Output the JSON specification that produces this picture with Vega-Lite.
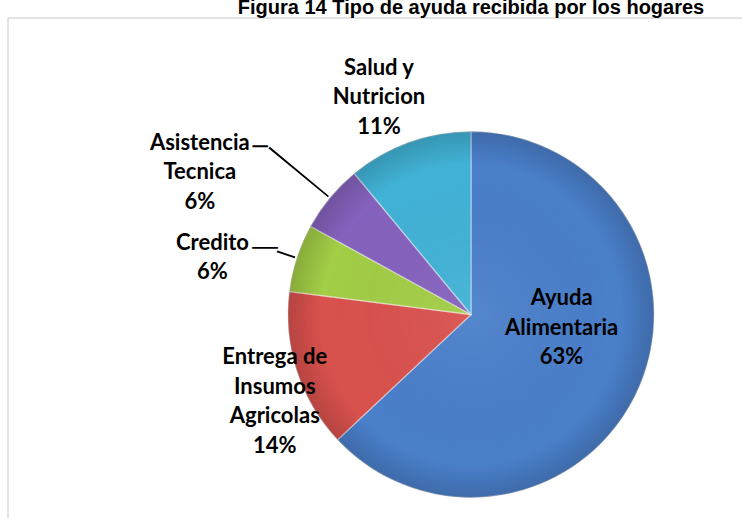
{
  "$schema": "https://vega.github.io/schema/vega-lite/v6.json",
  "width": 926,
  "height": 593,
  "autosize": "none",
  "padding": {"left": 8, "top": 18, "right": 0, "bottom": 0},
  "background": "white",
  "title": {
    "text": "Figura 14 Tipo de ayuda recibida por los hogares",
    "font": "Liberation Sans",
    "fontSize": 20,
    "fontWeight": "bold",
    "color": "#000000",
    "anchor": "middle",
    "baseline": "alphabetic",
    "offset": 6,
    "dy": 22
  },
  "data": {
    "values": [
      {"Tipo": "Ayuda Alimentaria", "orden": 1, "Porcentaje": 63, "lineas": ["Ayuda", "Alimentaria", "63%"]},
      {"Tipo": "Entrega de Insumos Agricolas", "orden": 2, "Porcentaje": 14, "lineas": ["Entrega de", "Insumos", "Agricolas", "14%"]},
      {"Tipo": "Credito", "orden": 3, "Porcentaje": 6, "lineas": ["Credito", "6%"]},
      {"Tipo": "Asistencia Tecnica", "orden": 4, "Porcentaje": 6, "lineas": ["Asistencia", "Tecnica", "6%"]},
      {"Tipo": "Salud y Nutricion", "orden": 5, "Porcentaje": 11, "lineas": ["Salud y", "Nutricion", "11%"]}
    ]
  },
  "layer": [
    {
      "transform": [{"aggregate": [{"op": "count", "as": "n"}]}],
      "mark": {"type": "rect", "fill": "transparent", "stroke": "#c8c8c8", "strokeWidth": 1},
      "encoding": {}
    },
    {
      "mark": {"type": "arc", "outerRadius": 183, "stroke": "#ffffff", "strokeOpacity": 0.4, "strokeWidth": 1.4},
      "encoding": {
        "theta": {"field": "Porcentaje", "type": "quantitative", "stack": true},
        "order": {"field": "orden", "type": "quantitative"},
        "color": {
          "field": "Tipo",
          "type": "nominal",
          "legend": null,
          "scale": {
            "domain": ["Ayuda Alimentaria", "Entrega de Insumos Agricolas", "Credito", "Asistencia Tecnica", "Salud y Nutricion"],
            "range": ["#4a7fca", "#d9514d", "#a2cd46", "#8562bd", "#41b2d6"]
          }
        }
      }
    },
    {
      "transform": [{"aggregate": [{"op": "count", "as": "n"}]}],
      "mark": {
        "type": "arc",
        "outerRadius": 183,
        "fill": {
          "gradient": "radial",
          "x1": 0.5, "y1": 0.5, "r1": 0,
          "x2": 0.5, "y2": 0.5, "r2": 0.5,
          "stops": [
            {"offset": 0, "color": "rgba(255,255,255,0.06)"},
            {"offset": 0.82, "color": "rgba(0,0,0,0)"},
            {"offset": 1, "color": "rgba(0,0,0,0.16)"}
          ]
        },
        "stroke": "rgba(0,0,0,0.12)",
        "strokeWidth": 1
      },
      "encoding": {}
    },
    {
      "transform": [
        {"stack": "Porcentaje", "groupby": [], "sort": [{"field": "orden", "order": "ascending"}], "as": ["ini", "fin"]},
        {"filter": "datum.Tipo === 'Asistencia Tecnica'"}
      ],
      "mark": {"type": "arc", "radius": 262, "radius2": 185, "thetaOffset": 0.1843, "theta2Offset": -0.1843, "fill": "#000000"},
      "encoding": {
        "theta": {"field": "ini", "type": "quantitative"},
        "theta2": {"field": "fin"}
      }
    },
    {
      "transform": [
        {"stack": "Porcentaje", "groupby": [], "sort": [{"field": "orden", "order": "ascending"}], "as": ["ini", "fin"]},
        {"filter": "datum.Tipo === 'Credito'"}
      ],
      "mark": {"type": "arc", "radius": 204, "radius2": 185, "thetaOffset": 0.1838, "theta2Offset": -0.1838, "fill": "#000000"},
      "encoding": {
        "theta": {"field": "ini", "type": "quantitative"},
        "theta2": {"field": "fin"}
      }
    },
    {
      "mark": {"type": "text", "radius": 262, "dx": -9, "dy": 0, "font": "DejaVu Sans", "fontSize": 25, "align": "center", "baseline": "middle", "color": "#000000"},
      "encoding": {
        "theta": {"field": "Porcentaje", "type": "quantitative", "stack": true},
        "order": {"field": "orden", "type": "quantitative"},
        "text": {"condition": {"test": "datum.Tipo === 'Asistencia Tecnica'", "value": "─"}, "value": ""}
      }
    },
    {
      "mark": {"type": "text", "radius": 204, "dx": -12, "dy": -2, "font": "DejaVu Sans", "fontSize": 21, "align": "center", "baseline": "middle", "color": "#000000"},
      "encoding": {
        "theta": {"field": "Porcentaje", "type": "quantitative", "stack": true},
        "order": {"field": "orden", "type": "quantitative"},
        "text": {"condition": {"test": "datum.Tipo === 'Credito'", "value": "──"}, "value": ""}
      }
    },
    {
      "mark": {"type": "text", "radius": 90, "dx": 8, "dy": -52, "font": "Lato", "fontSize": 22, "fontWeight": "bold", "lineHeight": 29.5, "align": "center", "baseline": "middle", "color": "#000000"},
      "encoding": {
        "theta": {"field": "Porcentaje", "type": "quantitative", "stack": true},
        "order": {"field": "orden", "type": "quantitative"},
        "text": {"condition": {"test": "datum.Tipo === 'Ayuda Alimentaria'", "field": "lineas"}, "value": ""}
      }
    },
    {
      "mark": {"type": "text", "radius": 200, "dx": -6, "dy": -19, "font": "Lato", "fontSize": 22, "fontWeight": "bold", "lineHeight": 29.5, "align": "center", "baseline": "middle", "color": "#000000"},
      "encoding": {
        "theta": {"field": "Porcentaje", "type": "quantitative", "stack": true},
        "order": {"field": "orden", "type": "quantitative"},
        "text": {"condition": {"test": "datum.Tipo === 'Entrega de Insumos Agricolas'", "field": "lineas"}, "value": ""}
      }
    },
    {
      "mark": {"type": "text", "radius": 255, "dx": -16, "dy": 7, "font": "Lato", "fontSize": 22, "fontWeight": "bold", "lineHeight": 29.5, "align": "center", "baseline": "middle", "color": "#000000"},
      "encoding": {
        "theta": {"field": "Porcentaje", "type": "quantitative", "stack": true},
        "order": {"field": "orden", "type": "quantitative"},
        "text": {"condition": {"test": "datum.Tipo === 'Credito'", "field": "lineas"}, "value": ""}
      }
    },
    {
      "mark": {"type": "text", "radius": 265, "dx": -67, "dy": -3, "font": "Lato", "fontSize": 22, "fontWeight": "bold", "lineHeight": 29.5, "align": "center", "baseline": "middle", "color": "#000000"},
      "encoding": {
        "theta": {"field": "Porcentaje", "type": "quantitative", "stack": true},
        "order": {"field": "orden", "type": "quantitative"},
        "text": {"condition": {"test": "datum.Tipo === 'Asistencia Tecnica'", "field": "lineas"}, "value": ""}
      }
    },
    {
      "mark": {"type": "text", "radius": 239, "dx": -11, "dy": -22, "font": "Lato", "fontSize": 22, "fontWeight": "bold", "lineHeight": 29.5, "align": "center", "baseline": "middle", "color": "#000000"},
      "encoding": {
        "theta": {"field": "Porcentaje", "type": "quantitative", "stack": true},
        "order": {"field": "orden", "type": "quantitative"},
        "text": {"condition": {"test": "datum.Tipo === 'Salud y Nutricion'", "field": "lineas"}, "value": ""}
      }
    }
  ]
}
